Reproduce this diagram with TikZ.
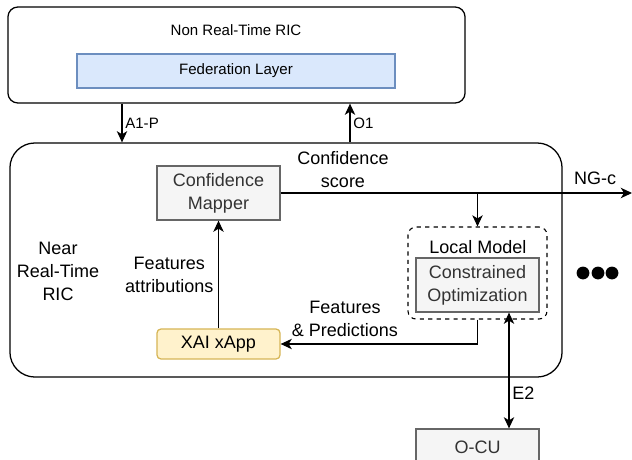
\documentclass[tikz,border=0pt]{standalone}
\usepackage{fontspec}
\setmainfont{Liberation Sans}
\usetikzlibrary{arrows.meta}
\definecolor{fedfill}{HTML}{DAE8FC}
\definecolor{fedline}{HTML}{6C8EBF}
\definecolor{grayfill}{HTML}{F5F5F5}
\definecolor{grayline}{HTML}{666666}
\definecolor{graytext}{HTML}{333333}
\definecolor{appfill}{HTML}{FFF2CC}
\definecolor{appline}{HTML}{D6B656}

\begin{document}
\begin{tikzpicture}[x=0.025cm, y=-0.025cm,
  >={Stealth[length=0.28cm, width=0.26cm, inset=0.08cm]},
  small/.style={font=\fontsize{10.7}{13}\selectfont},
  big/.style={font=\fontsize{12.8}{16.3}\selectfont, align=center},
  ric/.style={draw, line width=0.9pt},
  graybox/.style={big, draw=grayline, fill=grayfill, text=graytext, line width=0.9pt,
    minimum width=3.075cm, minimum height=1.35cm, inner sep=0pt},
  arw/.style={->, line width=0.75pt}]
\useasboundingbox (0,0) rectangle (632,460);

                % non real-time RIC
                \node[ric, rounded corners=0.25cm, minimum width=11.425cm, minimum height=2.4cm] (nonrt) at (236.5,55) {};
                \node[small] (nonrtlabel) at (236,30) {Non Real-Time RIC};
                \node[small, draw=fedline, fill=fedfill, line width=0.9pt, minimum width=7.95cm, minimum height=0.85cm] (fed) at (236,71) {Federation Layer};

                % near real-time RIC
                \node[ric, rounded corners=0.625cm, minimum width=13.8cm, minimum height=5.85cm] (nearrt) at (286,260) {};
                \node[big] (nearlabel) at (58,271) {Near\\Real-Time\\RIC};
                \node[graybox] (mapper) at (218.5,193) {Confidence\\Mapper};
                \node[big, draw=appline, fill=appfill, rounded corners=0.1cm, line width=0.9pt,
                    minimum width=3.075cm, minimum height=0.75cm, inner sep=0pt] (xapp) at (218.5,344) {XAI xApp};
                \node[draw, dashed, rounded corners=0.2cm, line width=0.75pt,
                    minimum width=3.475cm, minimum height=2.3cm] (local) at (477.5,273) {};
                \node[big] (locallabel) at (478,247) {Local Model};
                \node[graybox] (constr) at (477.5,285) {Constrained\\Optimization};
                \node[graybox, minimum height=0.9cm] (ocu) at (477.5,447) {O-CU};

                \foreach \x in {583,598,612}
                    \fill (\x,273) circle (0.16cm);

                % connectors
                \coordinate (a1) at (122,0);
                \coordinate (o1) at (350,0);
                \coordinate (e2) at (509,0);
                \coordinate (split) at (477.5,193);
                \coordinate (ngc) at (632,193);

                \draw[arw] (a1 |- nonrt.south) -- (a1 |- nearrt.north) node[small, midway, right, inner sep=2pt] (a1label) {A1-P};
                \draw[arw] (o1 |- nearrt.north) -- (o1 |- nonrt.south) node[small, midway, right, inner sep=2pt] (o1label) {O1};
                \draw[arw] (xapp) -- (mapper) node[big, midway, left] (attrlabel) {Features\\attributions};
                \draw[arw] (mapper.east) -- (ngc);
                \node[big] (conflabel) at (343,170) {Confidence\\score};
                \node[big] (ngclabel) at (595,178) {NG-c};
                \draw[arw] (split) -- (local.north);
                \draw[arw] (local.south) |- (xapp.east);
                \node[big] (predlabel) at (345,319) {Features\\\& Predictions};
                \draw[<->, line width=0.75pt] (e2 |- constr.south) -- (e2 |- ocu.north) node[big, pos=0.7, right, inner sep=2pt] (e2label) {E2};
\end{tikzpicture}
\end{document}
